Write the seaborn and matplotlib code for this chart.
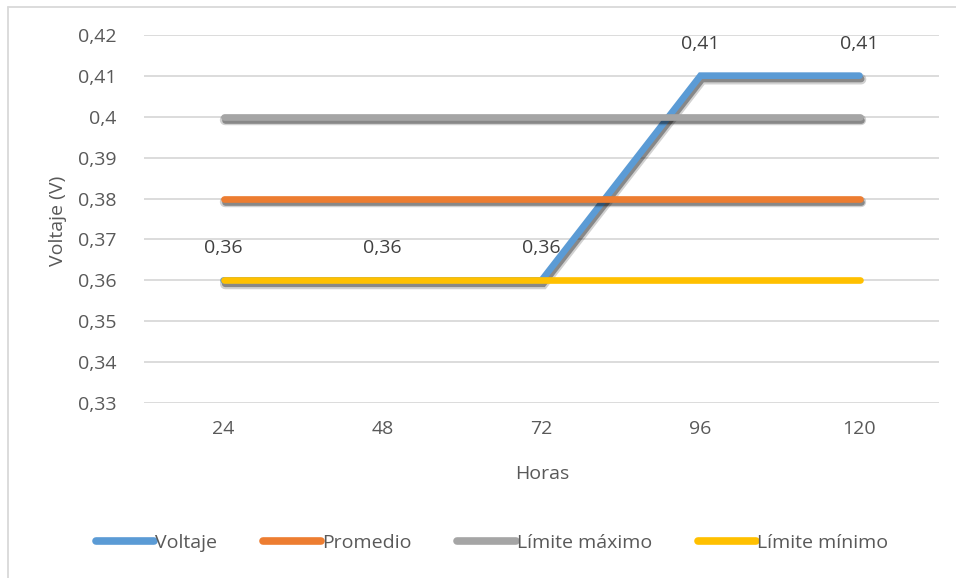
import matplotlib
matplotlib.use("Agg")
import matplotlib.pyplot as plt
import matplotlib.patheffects as pe
from matplotlib.lines import Line2D
import seaborn as sns
import numpy as np

horas = ["24", "48", "72", "96", "120"]
voltaje = [0.36, 0.36, 0.36, 0.41, 0.41]
promedio = [0.38, 0.38, 0.38, 0.38, 0.38]
limite_max = [0.40, 0.40, 0.40, 0.40, 0.40]
limite_min = [0.36, 0.36, 0.36, 0.36, 0.36]
series_names = ["Voltaje", "Promedio", "Límite máximo", "Límite mínimo"]
colors = ["#5B9BD5", "#ED7D31", "#A5A5A5", "#FFC000"]
y_ticks = [0.33, 0.34, 0.35, 0.36, 0.37, 0.38, 0.39, 0.40, 0.41, 0.42]

sns.set_theme(style="white")
plt.rcParams['font.family'] = ['Open Sans', 'DejaVu Sans']

W, H = 956, 578
fig = plt.figure(figsize=(W / 100, H / 100), dpi=100)
ax = fig.add_axes([144 / W, 1 - 403.3 / H, (939 - 144) / W, (403.3 - 34.7) / H])

x = np.arange(len(horas))
all_series = [voltaje, promedio, limite_max, limite_min]
shadow = [True, True, True, False]
fs = 14
txt_col = "#595959"

for vals, col, sh in zip(all_series, colors, shadow):
    sns.lineplot(x=x, y=vals, color=col, lw=4.8, ax=ax, zorder=3)
    ln = ax.lines[-1]
    ln.set_solid_capstyle("round")
    ln.set_solid_joinstyle("miter")
    if sh:
        ln.set_path_effects([
            pe.SimpleLineShadow(offset=(1.2, -2.6), shadow_color="black", alpha=0.18, linewidth=7.5),
            pe.SimpleLineShadow(offset=(1.2, -2.4), shadow_color="black", alpha=0.35),
            pe.Normal()])

for xi, v in zip(x, voltaje):
    ax.annotate(f"{v:.2f}".replace(".", ","), (xi, v), xytext=(0, 23), textcoords="offset points",
                ha="center", va="center", fontsize=fs, color="#404040", zorder=5)

ax.set_xlim(-0.5, len(horas) - 0.5)
ax.set_ylim(0.33, 0.42)
ax.set_yticks(y_ticks)
ax.set_yticklabels([("%.2f" % t).rstrip("0").replace(".", ",") for t in y_ticks], fontsize=fs, color=txt_col)
ax.set_xticks(x)
ax.set_xticklabels(horas, fontsize=fs, color=txt_col)
ax.tick_params(axis="both", length=0)
ax.tick_params(axis="y", pad=20)
ax.tick_params(axis="x", pad=12)
ax.grid(axis="y", color="#D9D9D9", lw=1.3)
ax.grid(axis="x", visible=False)
for s in ax.spines.values():
    s.set_visible(False)

ax.set_xlabel("")
ax.set_ylabel("")
fig.text(542 / W, 1 - 474 / H, "Horas", ha="center", va="center", fontsize=fs, color=txt_col)
fig.text(58 / W, 1 - 221 / H, "Voltaje (V)", ha="center", va="center", rotation=90, fontsize=fs, color=txt_col)

handles = [Line2D([0], [0], color=c, lw=5.5, solid_capstyle="round") for c in colors]
fig.legend(handles, series_names, loc="center", bbox_to_anchor=(492 / W, 1 - 543 / H), ncol=4,
           frameon=False, fontsize=fs, labelcolor=txt_col, handlelength=3.0, handletextpad=0.05,
           columnspacing=2.35, borderaxespad=0)

fig.add_artist(Line2D([8.3 / W, 8.3 / W], [0, 1 - 7 / H], color="#D9D9D9", lw=1.3, transform=fig.transFigure))
fig.add_artist(Line2D([8.3 / W, 1], [1 - 7 / H, 1 - 7 / H], color="#D9D9D9", lw=1.3, transform=fig.transFigure))

fig.savefig("out.png", dpi=100, facecolor="white")
